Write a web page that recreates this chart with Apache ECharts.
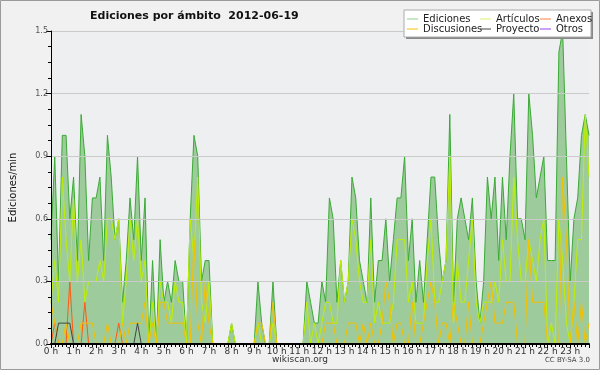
<!DOCTYPE html>
<html><head><meta charset="utf-8">
<script src="https://cdn.jsdelivr.net/npm/echarts@6/dist/echarts.min.js"></script>
<style>html,body{margin:0;padding:0;background:#f1f1f1}#c{width:600px;height:370px}</style>
</head><body><div id="c"></div>
<script>
const hourLabels = ['0 h','1 h','2 h','3 h','4 h','5 h','6 h','7 h','8 h','9 h','10 h','11 h','12 h','13 h','14 h','15 h','16 h','17 h','18 h','19 h','20 h','21 h','22 h','23 h'];
const yTicks = [0, 0.3, 0.6, 0.9, 1.2, 1.5];
const seriesNames = ['Ediciones','Artículos','Anexos','Discusiones','Proyecto','Otros'];

const ediciones = [0.5,0.9,0.3,1.0,1.0,0.6,0.8,0.4,1.1,0.9,
 0.4,0.7,0.7,0.8,0.4,1.0,0.8,0.5,0.6,0.2,
 0.4,0.7,0.5,0.9,0.4,0.7,0,0.4,0,0.5,
 0.2,0.3,0.2,0.4,0.3,0.3,0,0.6,1.0,0.9,
 0.3,0.4,0.4,0,0,0,0,0,0.1,0,
 0,0,0,0,0,0.3,0.1,0,0,0.3,
 0,0,0,0,0,0,0,0,0.3,0.2,
 0.1,0.1,0.3,0.2,0.7,0.6,0.2,0.4,0.2,0.3,
 0.8,0.7,0.4,0.3,0.2,0.7,0.2,0.4,0.4,0.6,
 0.3,0.5,0.7,0.7,0.9,0.4,0.6,0.2,0.4,0.2,
 0.5,0.8,0.8,0.5,0.3,0.4,1.1,0.2,0.6,0.7,
 0.6,0.5,0.7,0.3,0.1,0.3,0.8,0.6,0.8,0.4,
 0.8,0.5,0.9,1.2,0.6,0.6,0.5,1.2,1.0,0.7,
 0.8,0.9,0.4,0.4,0.4,1.4,1.5,0.9,0.3,0.6,
 0.7,1.0,1.1,1.0];

const articulos = [0.2,0.4,0.2,0.8,0.5,0.3,0.7,0.3,0.5,0.2,
 0.3,0.3,0.3,0.4,0.3,0.6,0.6,0.5,0.6,0.1,
 0.3,0.6,0.4,0.6,0.3,0.4,0,0.2,0,0.3,
 0.2,0.2,0.1,0.3,0.2,0.2,0,0.6,0.4,0.8,
 0.2,0.1,0.3,0,0,0,0,0,0.1,0,
 0,0,0,0,0,0.1,0,0,0,0.1,
 0,0,0,0,0,0,0,0,0.2,0,
 0.1,0,0.1,0.2,0.2,0.1,0.1,0.4,0.2,0.3,
 0.6,0.5,0.3,0.2,0.2,0.5,0.1,0.2,0.1,0.1,
 0.1,0.2,0.5,0.5,0.5,0.2,0.3,0.1,0.1,0.1,
 0.4,0.6,0.2,0.2,0.3,0.4,0.9,0.1,0.4,0.2,
 0.2,0.4,0.6,0.2,0.1,0.2,0.2,0.2,0.3,0.2,
 0.5,0.3,0.3,0.8,0.5,0.3,0.3,0.5,0.4,0.3,
 0.5,0.6,0,0.1,0,0.6,0.4,0.1,0,0.2,
 0.5,0.5,1.1,0.8];

const discusiones = [0.2,0.1,0,0,0.1,0,0,0,0.1,0.1,
 0.1,0.1,0,0,0,0.1,0,0,0,0.1,
 0,0.1,0.1,0.1,0.1,0.2,0,0.1,0,0.2,
 0.2,0.1,0.1,0.1,0.1,0.1,0,0,0.5,0.1,
 0,0.3,0.1,0,0,0,0,0,0,0,
 0,0,0,0,0,0.1,0.1,0,0,0.2,
 0,0,0,0,0,0,0,0,0,0,
 0,0,0,0.1,0.1,0.1,0,0,0,0.1,
 0.1,0.1,0,0.1,0,0.1,0,0,0.1,0.3,
 0.2,0,0.1,0.1,0,0,0.2,0,0,0.1,
 0.2,0.3,0.2,0,0.1,0.1,0,0.2,0.1,0,
 0,0.2,0,0,0,0.1,0.2,0.3,0.1,0.1,
 0.1,0.2,0.2,0.2,0,0,0,0.5,0.2,0.2,
 0.2,0.2,0,0,0,0,0.8,0.5,0,0.2,
 0,0.2,0,0.1];

const anexos = [0,0.1,0,0,0,0.3,0,0,0,0.2,
 0,0,0,0,0,0,0,0,0.1,0,
 0,0,0,0,0,0,0,0,0,0,
 0,0,0,0,0,0,0,0,0,0,
 0,0,0,0,0,0,0,0,0,0,
 0,0,0,0,0,0,0,0,0,0,
 0,0,0,0,0,0,0,0,0,0,
 0,0,0,0,0,0,0,0,0,0,
 0,0,0,0,0,0,0,0,0,0,
 0,0,0,0,0,0,0,0,0,0,
 0,0,0,0,0,0,0,0,0,0,
 0,0,0,0,0,0,0,0,0,0,
 0,0,0,0,0,0,0,0,0,0,
 0,0,0,0,0,0,0,0,0,0,
 0,0,0,0];

const proyecto = [0,0,0.1,0.1,0.1,0.1,0,0,0,0,
 0,0,0,0,0,0,0,0,0,0,
 0,0,0,0.1,0,0,0,0,0,0,
 0,0,0,0,0,0,0,0,0,0,
 0,0,0,0,0,0,0,0,0,0,
 0,0,0,0,0,0,0,0,0,0,
 0,0,0,0,0,0,0,0,0,0,
 0,0,0,0,0,0,0,0,0,0,
 0,0,0,0,0,0,0,0,0,0,
 0,0,0,0,0,0,0,0,0,0,
 0,0,0,0,0,0,0,0,0,0,
 0,0,0,0,0,0,0,0,0,0,
 0,0,0,0,0,0,0,0,0,0,
 0,0,0,0,0,0,0,0,0,0,
 0,0,0,0];

const otros = [0,0,0,0,0,0,0,0,0,0,
 0,0,0,0,0,0,0,0,0,0,
 0,0,0,0,0,0,0,0,0,0,
 0,0,0,0,0,0,0,0,0,0,
 0,0,0,0,0,0,0,0,0,0,
 0,0,0,0,0,0,0,0,0,0,
 0,0,0,0,0,0,0,0,0,0,
 0,0,0,0,0,0,0,0,0,0,
 0,0,0,0,0,0,0,0,0,0,
 0,0,0,0,0,0,0,0,0,0,
 0,0,0,0,0,0,0,0,0,0,
 0,0,0,0,0,0,0,0,0,0,
 0,0,0,0,0,0,0,0,0,0,
 0,0,0,0,0,0,0,0,0,0,
 0,0,0,0];

const FONT = 'DejaVu Sans';
const pairs = arr => arr.map((v, i) => [i, v]);
const lineSeries = (name, data, color, extra) => Object.assign({
  name: name, type: 'line', data: pairs(data), symbol: 'none', showSymbol: false,
  lineStyle: { color: color, width: 1 }, itemStyle: { color: color },
  animation: false, z: 2
}, extra || {});

const chart = echarts.init(document.getElementById('c'), null, { renderer: 'canvas' });
const legendBase = {
  orient: 'vertical', top: 14, itemGap: 0, itemWidth: 11, itemHeight: 1, icon: 'rect', z: 50,
  textStyle: { fontFamily: FONT, fontSize: 10, color: '#222', lineHeight: 10 },
  padding: 0, selectedMode: false
};
chart.setOption({
  backgroundColor: '#f1f1f1',
  animation: false,
  title: {
    text: 'Ediciones por ámbito  2012-06-19', left: 85, top: 6,
    textStyle: { fontFamily: FONT, fontSize: 11, fontWeight: 'bold', color: '#111' }
  },
  legend: [
    Object.assign({}, legendBase, { left: 407, data: [
      { name: seriesNames[0], itemStyle: { color: '#8fd08c' } }, { name: seriesNames[3] }] }),
    Object.assign({}, legendBase, { left: 480, data: [
      { name: seriesNames[1], itemStyle: { color: '#d8f070' } }, { name: seriesNames[4] }] }),
    Object.assign({}, legendBase, { left: 540, data: [
      { name: seriesNames[2], itemStyle: { color: '#ff8040' } }, { name: seriesNames[5] }] })
  ],
  grid: { left: 46, right: 11, top: 31, bottom: 26, show: true, backgroundColor: '#edeff1', borderWidth: 0 },
  xAxis: {
    type: 'value', min: 0, max: 143, interval: 6, z: 5,
    axisLine: { lineStyle: { color: '#000', width: 2 } },
    axisTick: { show: true, length: 4, lineStyle: { color: '#000', width: 1 } },
    minorTick: { show: true, splitNumber: 6, length: 3, lineStyle: { color: '#000', width: 1 } },
    splitLine: { show: false },
    axisLabel: { fontFamily: FONT, fontSize: 9, color: '#333', margin: 3,
      formatter: v => hourLabels[v / 6] || '' }
  },
  yAxis: {
    type: 'value', min: yTicks[0], max: yTicks[yTicks.length - 1], interval: 0.3, z: 5,
    name: 'Ediciones/min', nameLocation: 'middle', nameGap: 33, nameRotate: 90,
    nameTextStyle: { fontFamily: FONT, fontSize: 10, color: '#111' },
    axisLine: { show: true, lineStyle: { color: '#000', width: 1 } },
    axisTick: { show: true, length: 5, lineStyle: { color: '#000' } },
    minorTick: { show: true, splitNumber: 4, length: 3, lineStyle: { color: '#000' } },
    splitLine: { show: true, lineStyle: { color: '#cacaca', width: 1 } },
    axisLabel: { fontFamily: FONT, fontSize: 8, color: '#555', margin: 3,
      formatter: v => v.toFixed(1) }
  },
  series: [
    lineSeries(seriesNames[0], ediciones, '#3aaa35', { areaStyle: { color: '#9dcb9b', opacity: 1 }, z: 1 }),
    lineSeries(seriesNames[1], articulos, '#bfef00'),
    lineSeries(seriesNames[2], anexos, '#ff5a10'),
    lineSeries(seriesNames[3], discusiones, '#f5c000'),
    lineSeries(seriesNames[4], proyecto, '#444444'),
    lineSeries(seriesNames[5], otros, '#9944ee')
  ],
  graphic: [
    { type: 'rect', z: 10, shape: { x: 406, y: 12, width: 187, height: 27 }, style: { fill: '#888' } },
    { type: 'rect', z: 11, shape: { x: 404, y: 10, width: 187, height: 27 }, style: { fill: '#ffffff', stroke: '#aaa', lineWidth: 1 } },
    { type: 'text', z: 11, left: 'center', top: 355, style: { text: 'wikiscan.org', fontFamily: FONT, fontSize: 9, fill: '#333' } },
    { type: 'text', z: 11, right: 10, top: 357, style: { text: 'CC BY-SA 3.0', fontFamily: FONT, fontSize: 7, fill: '#444' } },
    { type: 'rect', z: 100, shape: { x: 0.5, y: 0.5, width: 599, height: 369 }, style: { fill: 'none', stroke: '#9a9a9a', lineWidth: 1 } }
  ]
});
</script></body></html>
